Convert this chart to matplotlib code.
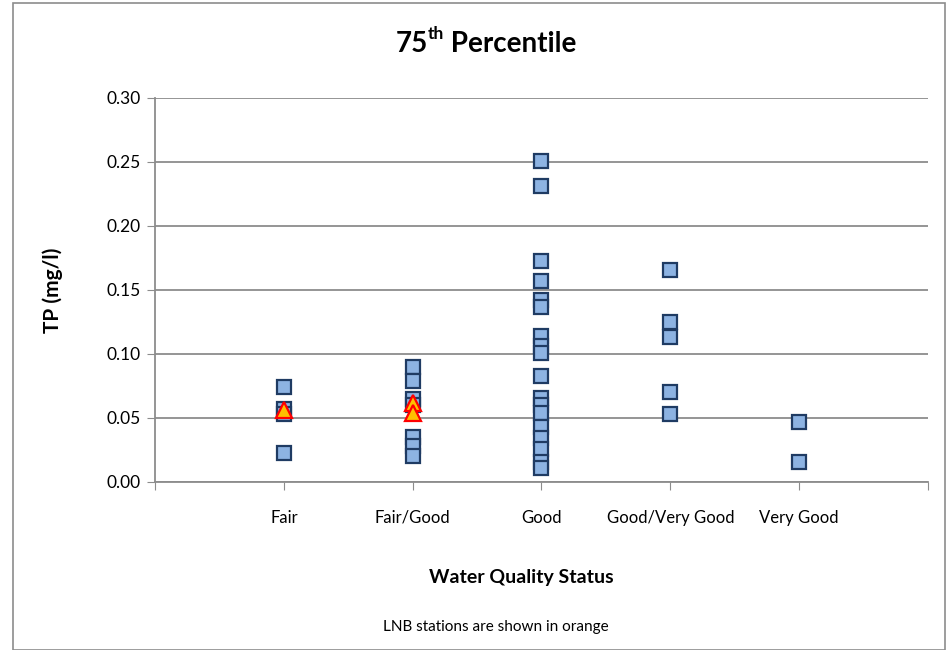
import numpy as np
import matplotlib.pyplot as plt
from matplotlib.patches import Rectangle

plt.rcParams['font.family'] = ['Lato', 'DejaVu Sans']

categories = ["Fair", "Fair/Good", "Good", "Good/Very Good", "Very Good"]

# 75th percentile TP (mg/l) per station, grouped by status
fair = [0.074, 0.057, 0.053, 0.023]
fair_good = [0.090, 0.079, 0.065, 0.060, 0.035, 0.028, 0.020]
good = [0.251, 0.231, 0.173, 0.157, 0.142, 0.137, 0.114, 0.106, 0.101,
        0.083, 0.066, 0.060, 0.054, 0.043, 0.034, 0.026, 0.016, 0.011]
good_vgood = [0.166, 0.125, 0.113, 0.070, 0.053]
vgood = [0.047, 0.016]

# LNB stations (orange)
lnb_cat = ["Fair", "Fair/Good", "Fair/Good"]
lnb_vals = [0.056, 0.062, 0.054]

groups = [fair, fair_good, good, good_vgood, vgood]

fig = plt.figure(figsize=(9.53, 6.5), dpi=100)
fig.patches.append(Rectangle((13/953, 0), 932/953, 1-3/650, transform=fig.transFigure,
                             fill=False, edgecolor='#8c8c8c', linewidth=1.2))
ax = fig.add_axes([155/953, 1-482/650, 773/953, 384/650])

for i, vals in enumerate(groups):
    x = np.full(len(vals), i + 1)
    ax.plot(x, vals, linestyle='none', marker='s', markersize=10.5,
            markerfacecolor='#8db3e2', markeredgecolor='#1f3b63', markeredgewidth=1.6, zorder=3)

lx = [categories.index(c) + 1 for c in lnb_cat]
ax.plot(lx, lnb_vals, linestyle='none', marker='^', markersize=11,
        markerfacecolor='#ffc000', markeredgecolor='#ff0000', markeredgewidth=1.6, zorder=4)

ax.set_xlim(0, 6)
ax.set_ylim(0, 0.30)
ax.set_yticks(np.arange(0, 0.31, 0.05))
ax.set_yticklabels([f"{v:.2f}" for v in np.arange(0, 0.31, 0.05)], fontsize=12.5)
ax.set_xticks(range(0, 7))
ax.set_xticklabels([""] + categories + [""], fontsize=12)
ax.tick_params(axis='x', length=6, color='#8c8c8c', pad=14)
ax.tick_params(axis='y', length=6, color='#8c8c8c', pad=4)

ax.grid(axis='y', color='#8c8c8c', linewidth=1.3)
ax.set_axisbelow(True)
for s in ['top', 'right']:
    ax.spines[s].set_visible(False)
for s in ['left', 'bottom']:
    ax.spines[s].set_color('#8c8c8c')
    ax.spines[s].set_linewidth(1.3)

ax.set_ylabel("TP (mg/l)", fontsize=15, fontweight='bold')
ax.yaxis.set_label_coords((63 - 155) / 773, 0.5)
fig.text(521/953, 1-578/650, "Water Quality Status", ha='center', va='center',
         fontsize=14, fontweight='bold')
fig.text(496/953, 1-627/650, "LNB stations are shown in orange", ha='center', va='center',
         fontsize=11)

# title with a small superscript, laid out by measuring pieces
fig.canvas.draw()
r = fig.canvas.get_renderer()
ty = 1 - 44/650
parts = [("75", 20, 0), ("th", 12.5, 10), (" Percentile", 20, 0)]
texts = []
for s, fs, dy in parts:
    t = fig.text(0, ty, s, fontsize=fs, fontweight='bold', va='center', ha='left')
    texts.append((t, dy))
widths = [t.get_window_extent(r).width for t, _ in texts]
x = 486 - sum(widths) / 2
for (t, dy), w in zip(texts, widths):
    t.set_position((x / 953, ty + dy / 650))
    x += w

fig.savefig("out.png", dpi=100)
